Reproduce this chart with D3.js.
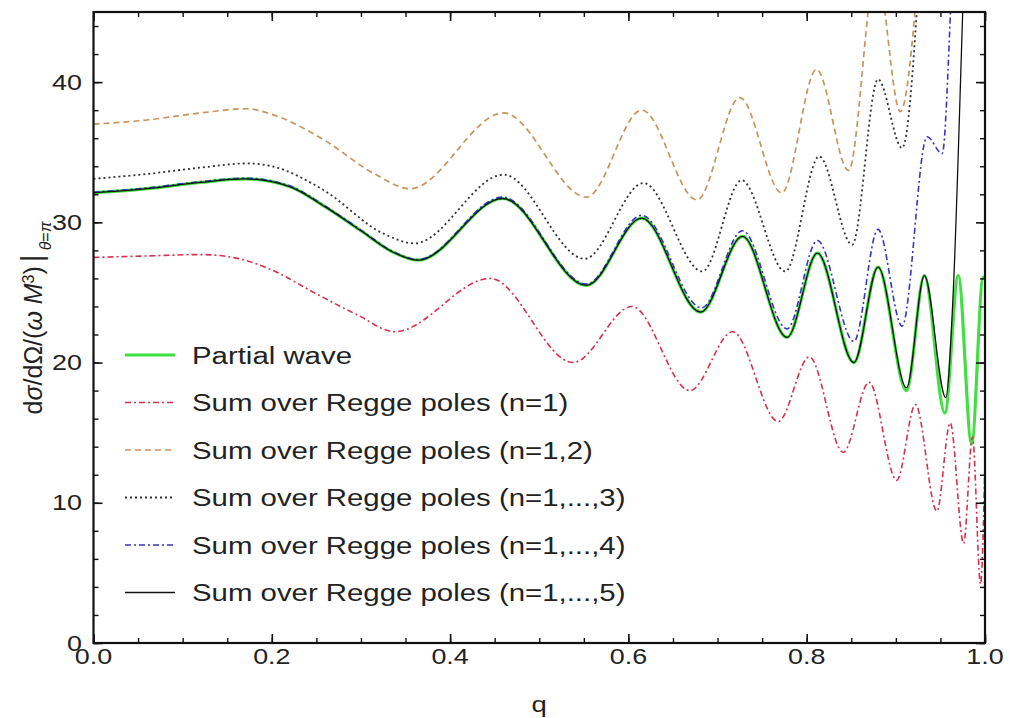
<!DOCTYPE html>
<html>
<head>
<meta charset="utf-8">
<script src="https://cdn.jsdelivr.net/npm/d3@7"></script>
<style>
  body { margin: 0; background: #fff; }
  text { font-family: "Liberation Sans", Arial, sans-serif; fill: #222; }
</style>
</head>
<body>
<svg width="1010" height="718"></svg>
<script>
const width = 1010;
const height = 718;
const plot = { left: 93.5, right: 985, top: 12, bottom: 643 };
const stretch = 1.25; // the source picture is widened a bit, text included

// [q, value]
const partialWave = [
  [0, 32.1], [0.06, 32.4], [0.12, 32.85], [0.17, 33.1], [0.22, 32.55], [0.26, 31.1],
  [0.30, 29.4], [0.335, 27.9], [0.364, 27.3], [0.459, 31.7], [0.553, 25.5], [0.615, 30.3],
  [0.681, 23.6], [0.728, 29.0], [0.778, 21.8], [0.812, 27.8], [0.853, 20.0],
  [0.880, 26.8], [0.912, 18.0], [0.932, 26.2], [0.955, 16.4], [0.970, 26.2],
  [0.985, 14.2], [0.998, 26.1], [1.0, 26.0]
];
const reggeN1 = [
  [0, 27.5], [0.06, 27.6], [0.12, 27.7], [0.16, 27.45], [0.2, 26.6], [0.25, 24.9],
  [0.296, 23.4], [0.338, 22.2], [0.445, 26.0], [0.538, 20.0], [0.604, 24.0], [0.669, 18.0],
  [0.717, 22.2], [0.768, 15.8], [0.803, 20.4], [0.841, 13.6], [0.870, 18.6],
  [0.901, 11.6], [0.922, 17.0], [0.946, 9.4], [0.961, 15.7], [0.976, 7.1],
  [0.986, 14.7], [0.995, 4.2], [1.0, 13.0]
];
const reggeN2 = [
  [0, 37.0], [0.06, 37.3], [0.12, 37.8], [0.172, 38.1], [0.2, 37.7], [0.258, 35.9],
  [0.314, 33.5], [0.355, 32.4], [0.46, 37.8], [0.553, 31.8], [0.615, 38.0],
  [0.677, 31.6], [0.725, 38.9], [0.772, 32.1], [0.811, 40.9], [0.847, 33.7],
  [0.878, 48.0], [0.905, 37.9], [0.93, 52.0]
];
const reggeN3 = [
  [0, 33.1], [0.06, 33.45], [0.12, 33.9], [0.172, 34.2], [0.2, 34.0], [0.258, 32.3],
  [0.325, 29.2], [0.36, 28.5], [0.46, 33.4], [0.551, 27.4], [0.617, 32.8],
  [0.683, 26.5], [0.727, 33.0], [0.776, 26.5], [0.814, 34.7], [0.851, 28.4],
  [0.880, 40.2], [0.907, 35.3], [0.93, 52.0]
];
const reggeN4 = [
  [0, 32.15], [0.06, 32.45], [0.12, 32.9], [0.17, 33.15], [0.22, 32.6], [0.26, 31.15],
  [0.30, 29.45], [0.335, 27.95], [0.364, 27.35], [0.459, 31.8], [0.553, 25.6], [0.615, 30.5],
  [0.682, 23.9], [0.728, 29.4], [0.778, 22.4], [0.812, 28.7], [0.853, 21.5],
  [0.880, 29.5], [0.907, 22.6], [0.935, 36.1], [0.952, 34.9], [0.962, 46.0],
  [0.966, 52.0]
];
const reggeN5 = [
  [0, 32.1], [0.06, 32.4], [0.12, 32.85], [0.17, 33.1], [0.22, 32.55], [0.26, 31.1],
  [0.30, 29.4], [0.335, 27.9], [0.364, 27.3], [0.459, 31.7], [0.553, 25.5], [0.615, 30.3],
  [0.681, 23.6], [0.728, 29.0], [0.778, 21.8], [0.812, 27.8], [0.853, 20.0],
  [0.880, 26.8], [0.912, 18.2], [0.932, 26.2], [0.956, 17.5], [0.964, 24.5],
  [0.975, 45.0], [0.98, 55.0]
];

const seriesNames = [
  "Partial wave",
  "Sum over Regge poles (n=1)",
  "Sum over Regge poles (n=1,2)",
  "Sum over Regge poles (n=1,...,3)",
  "Sum over Regge poles (n=1,...,4)",
  "Sum over Regge poles (n=1,...,5)"
];
const xTicks = [0, 0.2, 0.4, 0.6, 0.8, 1.0];
const yTicks = [0, 10, 20, 30, 40];

const styles = [
  { color: "#3fe03f", width: 3.2, dash: null },
  { color: "#d8304c", width: 1.6, dash: "6,3,2,3" },
  { color: "#c9945c", width: 1.7, dash: "6,4" },
  { color: "#333333", width: 1.8, dash: "2,3" },
  { color: "#3535cc", width: 1.6, dash: "6,3,2,3" },
  { color: "#111111", width: 1.3, dash: null }
];
const allSeries = [partialWave, reggeN1, reggeN2, reggeN3, reggeN4, reggeN5];

const svg = d3.select("svg");

const xScale = d3.scaleLinear().domain([0, 1]).range([plot.left, plot.right]);
const yScale = d3.scaleLinear().domain([0, 45]).range([plot.bottom, plot.top]);

svg.append("defs").append("clipPath").attr("id", "clip")
  .append("rect")
  .attr("x", plot.left).attr("y", plot.top)
  .attr("width", plot.right - plot.left).attr("height", plot.bottom - plot.top);

const line = d3.line()
  .x(d => xScale(d[0]))
  .y(d => yScale(d[1]))
  .curve(d3.curveMonotoneX);

const curves = svg.append("g").attr("clip-path", "url(#clip)");
allSeries.forEach((s, i) => {
  curves.append("path")
    .datum(s)
    .attr("d", line)
    .attr("fill", "none")
    .attr("stroke", styles[i].color)
    .attr("stroke-width", styles[i].width)
    .attr("stroke-dasharray", styles[i].dash)
    .attr("stroke-linejoin", "round");
});

// axes: ticks inside on all four sides
const xMinor = d3.range(0, 1.0001, 0.05);
const yMinor = d3.range(0, 45.001, 2);
const axes = [
  { axis: d3.axisBottom(xScale), at: `translate(0,${plot.bottom})`, minor: xMinor, major: xTicks },
  { axis: d3.axisTop(xScale), at: `translate(0,${plot.top})`, minor: xMinor, major: xTicks },
  { axis: d3.axisLeft(yScale), at: `translate(${plot.left},0)`, minor: yMinor, major: yTicks },
  { axis: d3.axisRight(yScale), at: `translate(${plot.right},0)`, minor: yMinor, major: yTicks }
];
axes.forEach(a => {
  const g = svg.append("g").attr("transform", a.at);
  g.call(a.axis.tickValues(a.minor).tickSize(-5).tickFormat(""));
  g.select(".domain").remove();
  g.selectAll(".tick line").attr("stroke", "#111").attr("stroke-width", 1.4);
  const g2 = svg.append("g").attr("transform", a.at);
  g2.call(a.axis.tickValues(a.major).tickSize(-9).tickFormat(""));
  g2.select(".domain").remove();
  g2.selectAll(".tick line").attr("stroke", "#111").attr("stroke-width", 1.6);
});

svg.append("rect")
  .attr("x", plot.left).attr("y", plot.top)
  .attr("width", plot.right - plot.left).attr("height", plot.bottom - plot.top)
  .attr("fill", "none").attr("stroke", "#111").attr("stroke-width", 2.2);

// tick labels
const fmtX = d3.format(".1f");
svg.append("g").selectAll("text").data(xTicks).join("text")
  .attr("transform", d => `translate(${xScale(d)},664) scale(${stretch},1)`)
  .attr("text-anchor", "middle")
  .attr("font-size", 21.5)
  .text(fmtX);
svg.append("g").selectAll("text").data(yTicks).join("text")
  .attr("transform", d => `translate(82,${yScale(d) + 7.5}) scale(${stretch},1)`)
  .attr("text-anchor", "end")
  .attr("font-size", 21.5)
  .text(d => d);

// axis titles
svg.append("text")
  .attr("transform", `translate(${(plot.left + plot.right) / 2},712) scale(${stretch},1)`)
  .attr("text-anchor", "middle")
  .attr("font-size", 22)
  .text("q");

const yTitle = svg.append("text")
  .attr("transform", "translate(42,318) rotate(-90)")
  .attr("text-anchor", "middle")
  .attr("font-size", 25);
yTitle.append("tspan").text("d");
yTitle.append("tspan").attr("font-style", "italic").text("σ");
yTitle.append("tspan").text("/dΩ/(");
yTitle.append("tspan").attr("font-style", "italic").text("ω M");
yTitle.append("tspan").attr("font-size", 16).attr("baseline-shift", "super").text("3");
yTitle.append("tspan").text(")");
yTitle.append("tspan").attr("font-size", 30).attr("dx", 4).text("|");
yTitle.append("tspan").attr("font-size", 16).attr("dx", 4).attr("font-style", "italic")
  .attr("baseline-shift", "sub").text("θ");
yTitle.append("tspan").attr("font-size", 16).attr("baseline-shift", "sub").text("=");
yTitle.append("tspan").attr("font-size", 16).attr("font-style", "italic")
  .attr("baseline-shift", "sub").text("π");

// legend
const legendTop = 355;
const legendStep = 47.5;
const legend = svg.append("g");
seriesNames.forEach((name, i) => {
  const ly = legendTop + i * legendStep;
  legend.append("line")
    .attr("x1", 125).attr("x2", 175).attr("y1", ly).attr("y2", ly)
    .attr("stroke", styles[i].color)
    .attr("stroke-width", i === 0 ? 3 : styles[i].width)
    .attr("stroke-dasharray", styles[i].dash);
  legend.append("text")
    .attr("transform", `translate(192,${ly + 8.5}) scale(${stretch},1)`)
    .attr("font-size", 23.5)
    .text(name);
});
</script>
</body>
</html>
